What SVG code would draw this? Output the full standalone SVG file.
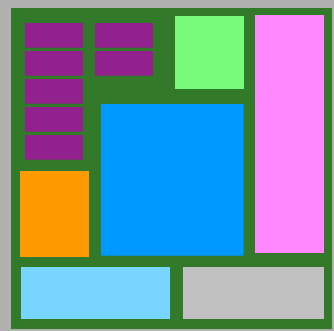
<svg xmlns="http://www.w3.org/2000/svg" width="334" height="331" viewBox="0 0 334 331">
<style>
.p{fill:#93208f}
</style>
<rect x="0" y="0" width="334" height="331" fill="#b0b0b0"/>
<g id="frame"><rect x="11" y="8" width="321" height="321" fill="#33792a"/></g>
<g id="purple-blocks">
<rect class="p" x="25" y="23" width="58" height="24.7"/>
<rect class="p" x="25" y="51" width="58" height="24.7"/>
<rect class="p" x="25" y="79" width="58" height="24.7"/>
<rect class="p" x="25" y="107" width="58" height="24.7"/>
<rect class="p" x="25" y="135" width="58" height="24.7"/>
<rect class="p" x="95" y="23" width="58" height="24.7"/>
<rect class="p" x="95" y="51" width="58" height="24.7"/>
</g>
<g id="lightgreen"><rect x="175" y="16" width="69" height="73" fill="#77fb7a"/></g>
<g id="pink"><rect x="255" y="15" width="69" height="238" fill="#ff88ff"/></g>
<g id="blue"><rect x="101" y="104" width="142.7" height="151.7" fill="#0099ff"/></g>
<g id="orange"><rect x="20" y="171" width="69" height="86" fill="#ff9900"/></g>
<g id="lightblue"><rect x="21" y="267" width="149" height="52" fill="#77d5ff"/></g>
<g id="gray"><rect x="183" y="267" width="141" height="52" fill="#c0c0c0"/></g>
<g id="connectors"/>
</svg>
